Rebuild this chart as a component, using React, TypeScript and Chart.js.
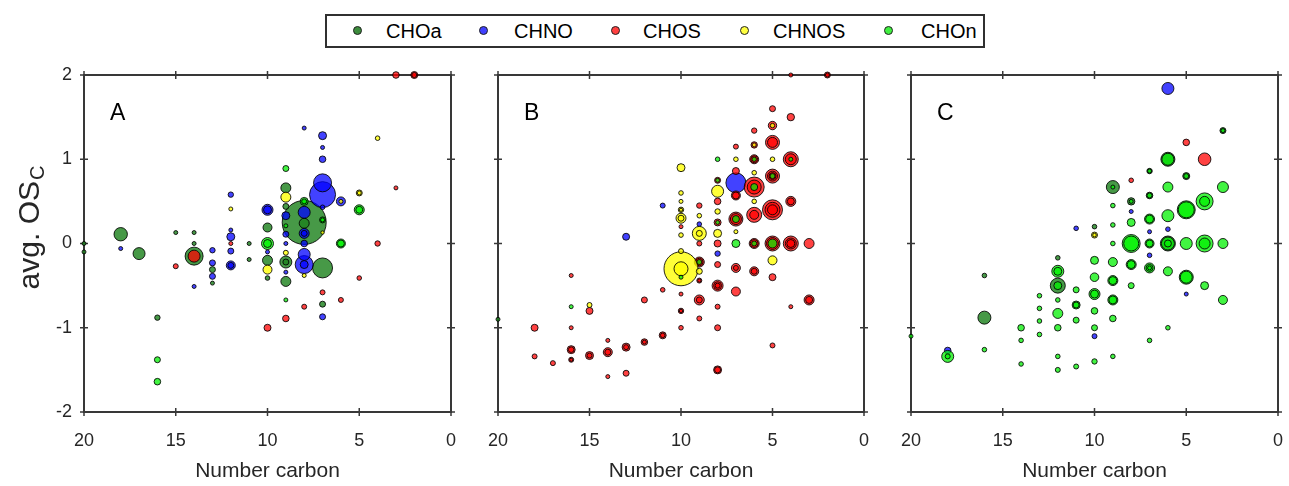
import React, { useEffect, useRef } from "react";
import { Chart, registerables } from "chart.js";
Chart.register(...registerables);

type Pt = [number, number, number]; // [number of carbon, avg. OSc, bubble size]

const SERIES = ["CHOa", "CHNO", "CHOS", "CHNOS", "CHOn"];
const FILL = [
  "rgba(30,130,30,0.82)",
  "rgba(0,0,255,0.74)",
  "rgba(255,0,0,0.74)",
  "rgba(255,255,0,0.78)",
  "rgba(0,240,0,0.74)",
];
const LEGEND_FILL = ["#3c8c3c", "#3f3fff", "#ff4040", "#ffff40", "#40f040"];
const X_TICKS = [20, 15, 10, 5, 0];
const Y_TICKS = [-2, -1, 0, 1, 2];
const PANEL_LABELS = ["A", "B", "C"];
const X_TITLE = "Number carbon";

// ---------- Panel A ----------
const A_CHOa: Pt[] = [
  [20, 0, 2], [20, -0.1, 2], [18, 0.11, 6.7], [17, -0.12, 6], [16, -0.88, 2.7],
  [15, 0.13, 2], [14, 0.13, 2], [14, 0, 2], [14, -0.15, 9], [13, -0.31, 3], [13, -0.47, 2],
  [11, 0, 2], [11, -0.19, 2], [10, 0.19, 4.5], [10, -0.2, 5], [10, -0.41, 2.3],
  [9, 0.66, 5], [9, 0.44, 3], [9, -0.22, 6], [9, -0.22, 3], [9, -0.45, 5],
  [8, 0.25, 22], [8, 0.24, 5], [7, -0.29, 10], [7, -0.72, 3],
];
const A_CHNO: Pt[] = [
  [18, -0.06, 2], [14, -0.51, 2], [13, -0.08, 2.7], [13, -0.23, 3], [13, -0.39, 3],
  [12, 0.58, 2.7], [12, 0.16, 2], [12, 0.08, 4], [12, -0.09, 3], [12, -0.26, 4.5], [12, -0.26, 3],
  [10, 0.4, 5.5], [10, 0.4, 4], [10, -0.1, 2], [9, 0.33, 4], [9, 0.11, 3], [9, 0, 2], [9, -0.34, 2],
  [8, 1.37, 2], [8, 0.37, 6], [8, 0.12, 5], [8, 0.12, 3], [8, 0, 3.3], [8, -0.13, 6], [8, -0.25, 9], [8, -0.25, 4],
  [7, 1.28, 4], [7, 1.14, 2], [7, 1.0, 3.3], [7, 0.58, 13], [7, 0.72, 9], [7, 0.43, 2.3], [7, -0.87, 3],
  [6, 0.5, 4.5],
];
const A_CHOS: Pt[] = [
  [15, -0.27, 2.5], [14, -0.15, 6], [12, 0, 2], [10, -1.0, 3.5], [9, -0.89, 3.3], [8, -0.75, 2.5],
  [7, -0.58, 2.5], [6, -0.67, 2.5], [5, -0.41, 2.3], [4, 0, 2.7], [3, 2, 3.3], [3, 0.66, 2], [2, 2, 3.5], [2, 2, 2.5],
];
const A_CHNOS: Pt[] = [
  [12, 0.41, 2], [10, -0.31, 4.5], [9, 0.55, 5], [9, -0.11, 2.5], [8, -0.38, 2], [7, 0.13, 1.7],
  [6, 0.5, 2], [5, 0.6, 3], [5, 0.6, 2], [4, 1.25, 2.3],
];
const A_CHOn: Pt[] = [
  [16, -1.38, 3], [16, -1.64, 3.3], [10, 0, 6], [10, 0, 4], [9, 0.89, 3], [9, 0.21, 2], [9, -0.67, 2],
  [8, 0.5, 4], [8, 0.5, 2.5], [7, 0.28, 3], [7, 0.28, 2], [6, 0, 4.5], [6, 0, 3.5], [5, 0.4, 5], [5, 0.4, 3.5],
];

// ---------- Panel B ----------
const B_CHOa: Pt[] = [[20, -0.9, 2]];
const B_CHNO: Pt[] = [[13, 0.08, 3.5], [11, 0.45, 2.5], [9, 0.23, 2.3], [8, -0.12, 2.7], [7, 0.72, 10]];
const B_CHOS: Pt[] = [
  [18, -1.0, 3.5], [18, -1.34, 2.5], [17, -1.42, 2.5], [16, -0.38, 2], [16, -1.0, 2], [16, -1.26, 4], [16, -1.26, 2.8],
  [16, -1.38, 2.5], [16, -1.38, 1.6], [15, -0.8, 3.5], [15, -1.33, 4], [15, -1.33, 2.5], [14, -1.15, 2],
  [14, -1.29, 4.5], [14, -1.29, 3], [14, -1.58, 2], [13, -1.23, 4], [13, -1.23, 2.5], [13, -1.54, 3],
  [12, -0.67, 3], [12, -1.17, 3.3], [12, -1.17, 2], [11, -0.55, 2.3], [11, -1.09, 3.5], [11, -1.09, 2.3],
  [10, 0.2, 2], [10, -0.6, 2], [10, -0.8, 2.7], [10, -0.8, 1.7], [10, -1.0, 2.3],
  [9, 0.45, 2.7], [9, 0, 2.5], [9, -0.22, 5], [9, -0.22, 3.8], [9, -0.44, 2.5], [9, -0.44, 1.6], [9, -0.67, 5], [9, -0.67, 3],
  [9, -0.89, 2.5], [8, 0.75, 3], [8, 0.5, 3.3], [8, 0.25, 3.5], [8, 0, 3.5], [8, -0.25, 3], [8, -0.5, 5.5], [8, -0.5, 4],
  [8, -0.5, 2.5], [8, -0.75, 2.5], [8, -1.0, 3], [8, -1.5, 4], [8, -1.5, 3],
  [7, 1.15, 2.5], [7, 0.86, 3.5], [7, 0.57, 4.5], [7, 0.57, 3.5], [7, 0.29, 7], [7, 0.29, 5.5], [7, -0.29, 4.5], [7, -0.29, 2.5], [7, -0.57, 4.5],
  [6, 1.34, 2.7], [6, 1.17, 3.2], [6, 1.0, 4.5], [6, 1.0, 3.5], [6, 0.67, 10], [6, 0.67, 7], [6, 0.34, 7.5], [6, 0.34, 4.5],
  [6, 0, 5], [6, 0, 4], [6, -0.33, 4.5], [6, -0.33, 3],
  [5, 1.6, 3], [5, 1.4, 4.2], [5, 1.2, 7], [5, 1.2, 5], [5, 0.8, 7], [5, 0.8, 5], [5, 0.8, 3.5], [5, 0.4, 10], [5, 0.4, 7.5],
  [5, 0.4, 5], [5, 0, 7.5], [5, 0, 6], [5, -0.4, 3.5], [5, -1.21, 2.5],
  [4, 2, 2], [4, 1.5, 3.7], [4, 1.0, 7.5], [4, 1.0, 5.5], [4, 0.5, 5], [4, 0.5, 3.5], [4, 0, 7.5], [4, 0, 5.5], [4, 0, 4],
  [4, -0.75, 2], [3, 0, 5], [3, -0.67, 5], [3, -0.67, 3.5], [2, 2, 3], [2, 2, 2],
];
const B_CHNOS: Pt[] = [
  [15, -0.73, 2.5], [10, 0.9, 4], [10, 0.6, 2.3], [10, 0.5, 2], [10, 0.4, 2.7], [10, 0.4, 1.6], [10, 0.3, 5], [10, 0.3, 3],
  [10, 0.1, 2.3], [10, -0.09, 2.5], [10, -0.3, 17], [10, -0.3, 7], [9, 0.33, 2.3], [9, 0.12, 7], [9, 0.12, 3],
  [9, -0.33, 3], [8, 0.62, 6], [8, 0.38, 2.7], [8, 0.12, 4], [7, 1.0, 2.3], [7, 0.14, 2], [6, 1.17, 2],
  [6, 0.84, 2.3], [6, 0.5, 2.3], [5, 1.4, 2.2], [5, 1.0, 2.3], [5, -0.2, 4.5],
];
const B_CHOn: Pt[] = [
  [16, -0.75, 2], [10, -0.4, 2], [9, -0.22, 2.5], [8, 1.0, 2.3], [8, 0.75, 2], [8, 0.25, 2], [7, 0.29, 3.5],
  [7, 0, 4], [6, 1.0, 2.2], [6, 0.67, 3.5], [6, 0, 2.5], [5, 0.8, 2.5], [5, 0, 4.5], [4, 1.0, 2],
];

// ---------- Panel C ----------
const C_CHOa: Pt[] = [
  [16, -0.38, 2.3], [16, -0.88, 6.5], [12, -0.17, 2.3], [12, -0.5, 7.5], [10, 0.2, 2.3], [9, 0.67, 6.5],
  [8, 0.5, 3.7], [7, 0.86, 2.7], [7, 0.57, 3.3], [6, 1.0, 7], [6, 0, 7.5], [5, 0.8, 3.5], [3, 1.34, 3],
];
const C_CHNO: Pt[] = [
  [18, -1.27, 3.3], [11, 0.18, 2.3], [10, -1.1, 2.5], [8, 0.38, 2], [7, 0.14, 2], [7, -0.14, 2.3],
  [6, 1.84, 6], [6, 0.17, 2.3], [5, -0.6, 2],
];
const C_CHOS: Pt[] = [[8, 0.75, 2.3], [5, 1.2, 3.3], [4, 1.0, 6.3]];
const C_CHNOS: Pt[] = [[10, 0.1, 3], [10, 0.1, 1.8]];
const C_CHOn: Pt[] = [
  [20, -1.1, 2], [18, -1.34, 6], [18, -1.34, 2.5], [16, -1.26, 2.3], [14, -1.0, 3.3], [14, -1.15, 2.3], [14, -1.43, 2.3],
  [13, -0.62, 2.3], [13, -0.77, 2.3], [13, -0.92, 2.3], [13, -1.08, 2.3],
  [12, -0.33, 6], [12, -0.33, 4], [12, -0.5, 4], [12, -0.67, 2.3], [12, -0.83, 5], [12, -1.0, 3.3], [12, -1.34, 2.3], [12, -1.5, 2.5],
  [11, -0.55, 3], [11, -0.73, 4], [11, -0.73, 3], [11, -0.91, 3], [11, -1.46, 2.5],
  [10, -0.2, 4], [10, -0.4, 4.3], [10, -0.6, 5.5], [10, -0.6, 4], [10, -0.8, 3.3], [10, -1.0, 3], [10, -1.4, 2.7],
  [9, 0.67, 2], [9, 0.45, 2.3], [9, 0.22, 2.3], [9, 0, 2.3], [9, -0.22, 4.5], [9, -0.44, 5], [9, -0.44, 4],
  [9, -0.67, 5], [9, -0.67, 4], [9, -0.89, 3.3], [9, -1.34, 2.3],
  [8, 0.5, 2], [8, 0.25, 4], [8, 0, 9], [8, 0, 7.5], [8, -0.25, 5], [8, -0.25, 4], [8, -0.5, 3],
  [7, 0.86, 2], [7, 0.57, 2.5], [7, 0.29, 5], [7, 0.29, 4], [7, 0, 4.5], [7, 0, 3.5], [7, -0.29, 5], [7, -0.29, 3.5],
  [7, -0.29, 2], [7, -1.15, 2.3],
  [6, 1.0, 6], [6, 0.67, 5], [6, 0.33, 6], [6, 0, 6.5], [6, 0, 3.5], [6, -0.33, 4.5], [6, -1.0, 2.3],
  [5, 0.8, 2.5], [5, 0.4, 9], [5, 0.4, 8], [5, 0, 6], [5, -0.4, 7], [5, -0.4, 6],
  [4, 0.5, 8.5], [4, 0.5, 5], [4, 0, 8.5], [4, 0, 5.5], [4, -0.5, 4],
  [3, 1.34, 2], [3, 0.67, 5.5], [3, 0, 5], [3, -0.67, 4.5],
];

const PANELS: Pt[][][] = [
  [A_CHOa, A_CHNO, A_CHOS, A_CHNOS, A_CHOn],
  [B_CHOa, B_CHNO, B_CHOS, B_CHNOS, B_CHOn],
  [C_CHOa, C_CHNO, C_CHOS, C_CHNOS, C_CHOn],
];

const FONT = "'Liberation Sans', Arial, Helvetica, sans-serif";
const FRAME = "#383838";

// layout of each panel canvas (page px)
const LAYOUT = [
  { left: 0, width: 460, yWidth: 84, padLeft: 0, padRight: 9 },
  { left: 460, width: 420, yWidth: 0, padLeft: 38, padRight: 16 },
  { left: 880, width: 409, yWidth: 0, padLeft: 31, padRight: 11 },
];
const CANVAS_TOP = 60;
const CANVAS_H = 426;

function zeroPad(s: any) {
  s.paddingLeft = 0;
  s.paddingRight = 0;
  s.paddingTop = 0;
  s.paddingBottom = 0;
}

function framePlugin(panel: number) {
  return {
    id: "frame" + panel,
    beforeDatasetsDraw(chart: any) {
      const { ctx, chartArea: a, scales } = chart;
      ctx.save();
      ctx.strokeStyle = FRAME;
      ctx.lineWidth = 2;
      ctx.strokeRect(a.left, a.top, a.right - a.left, a.bottom - a.top);
      ctx.lineWidth = 1.5;
      const t = 4;
      ctx.beginPath();
      for (const v of X_TICKS) {
        const x = scales.x.getPixelForValue(v);
        ctx.moveTo(x, a.bottom - t); ctx.lineTo(x, a.bottom + t);
        ctx.moveTo(x, a.top - t); ctx.lineTo(x, a.top + t);
      }
      for (const v of Y_TICKS) {
        const y = scales.y.getPixelForValue(v);
        ctx.moveTo(a.left - t, y); ctx.lineTo(a.left + t, y);
        ctx.moveTo(a.right - t, y); ctx.lineTo(a.right + t, y);
      }
      ctx.stroke();
      // panel letter
      ctx.fillStyle = "#000";
      ctx.font = `23px ${FONT}`;
      ctx.textBaseline = "alphabetic";
      ctx.textAlign = "left";
      ctx.fillText(PANEL_LABELS[panel], a.left + 26, a.top + 45);
      // y-axis title with subscript (panel A only)
      if (panel === 0) {
        ctx.fillStyle = "#262626";
        const cy = 228 - CANVAS_TOP;
        ctx.translate(39, cy);
        ctx.rotate(-Math.PI / 2);
        ctx.font = `30px ${FONT}`;
        const main = "avg. OS";
        const wMain = ctx.measureText(main).width;
        ctx.font = `20px ${FONT}`;
        const wSub = ctx.measureText("C").width;
        const start = -(wMain + wSub) / 2;
        ctx.font = `30px ${FONT}`;
        ctx.fillText(main, start, 0);
        ctx.font = `20px ${FONT}`;
        ctx.fillText("C", start + wMain + 1, 5);
      }
      ctx.restore();
    },
  };
}

function Panel({ index }: { index: number }) {
  const ref = useRef<HTMLCanvasElement | null>(null);
  const L = LAYOUT[index];
  useEffect(() => {
    if (!ref.current) return;
    const datasets = PANELS[index].map((pts, i) => ({
      label: SERIES[i],
      data: [...pts].sort((p, q) => q[2] - p[2]).map(([x, y, r]) => ({ x, y, r })),
      backgroundColor: FILL[i],
      borderColor: "rgba(0,0,0,0.85)",
      borderWidth: 1,
      hoverRadius: 0,
      clip: false as any,
      order: 5 - i,
    }));
    const chart = new Chart(ref.current, {
      type: "bubble",
      data: { datasets },
      plugins: [framePlugin(index)],
      options: {
        animation: false,
        responsive: false,
        events: [],
        layout: { autoPadding: false, padding: { left: L.padLeft, right: L.padRight, top: 15, bottom: 0 } },
        plugins: { legend: { display: false }, tooltip: { enabled: false } },
        scales: {
          x: {
            type: "linear",
            min: 0,
            max: 20,
            reverse: true,
            afterBuildTicks: (s: any) => { s.ticks = X_TICKS.map((v) => ({ value: v })); },
            afterFit: (s: any) => { s.height = 74; zeroPad(s); },
            grid: { display: false, drawTicks: false },
            border: { display: false },
            ticks: { font: { family: FONT, size: 18 }, color: "#262626", padding: 18, maxRotation: 0 },
            title: { display: true, text: X_TITLE, font: { family: FONT, size: 21 }, color: "#262626", padding: { top: 0, bottom: 2 } },
          },
          y: {
            type: "linear",
            min: -2,
            max: 2,
            afterBuildTicks: (s: any) => { s.ticks = Y_TICKS.map((v) => ({ value: v })); },
            afterFit: (s: any) => { s.width = L.yWidth; zeroPad(s); },
            grid: { display: false, drawTicks: false },
            border: { display: false },
            ticks: { display: index === 0, font: { family: FONT, size: 18 }, color: "#262626", padding: 12 },
          },
        },
      } as any,
    });
    return () => chart.destroy();
  }, [index]);
  return (
    <canvas
      ref={ref}
      width={L.width}
      height={CANVAS_H}
      style={{ position: "absolute", left: L.left, top: CANVAS_TOP, width: L.width, height: CANVAS_H }}
    />
  );
}

const LEGEND_MARK_X = [31, 157, 289, 418, 562];
const LEGEND_TEXT_X = [59, 187, 316, 446, 594];

export default function App() {
  return (
    <div style={{ position: "absolute", left: 0, top: 0, width: 1289, height: 486, background: "#fff", overflow: "hidden" }}>
      <div
        style={{
          position: "absolute", left: 325, top: 14, width: 660, height: 34, boxSizing: "border-box",
          border: "2px solid #303030", background: "#fff", fontFamily: FONT, fontSize: 20, color: "#000",
        }}
      >
        {SERIES.map((s, i) => (
          <React.Fragment key={s}>
            <span
              style={{
                position: "absolute", left: LEGEND_MARK_X[i] - 5, top: 10, width: 9, height: 9, borderRadius: "50%",
                background: LEGEND_FILL[i], border: "0.8px solid #222", boxSizing: "border-box",
              }}
            />
            <span style={{ position: "absolute", left: LEGEND_TEXT_X[i], top: 3, lineHeight: "24px" }}>{s}</span>
          </React.Fragment>
        ))}
      </div>
      {[0, 1, 2].map((i) => (
        <Panel key={i} index={i} />
      ))}
    </div>
  );
}
